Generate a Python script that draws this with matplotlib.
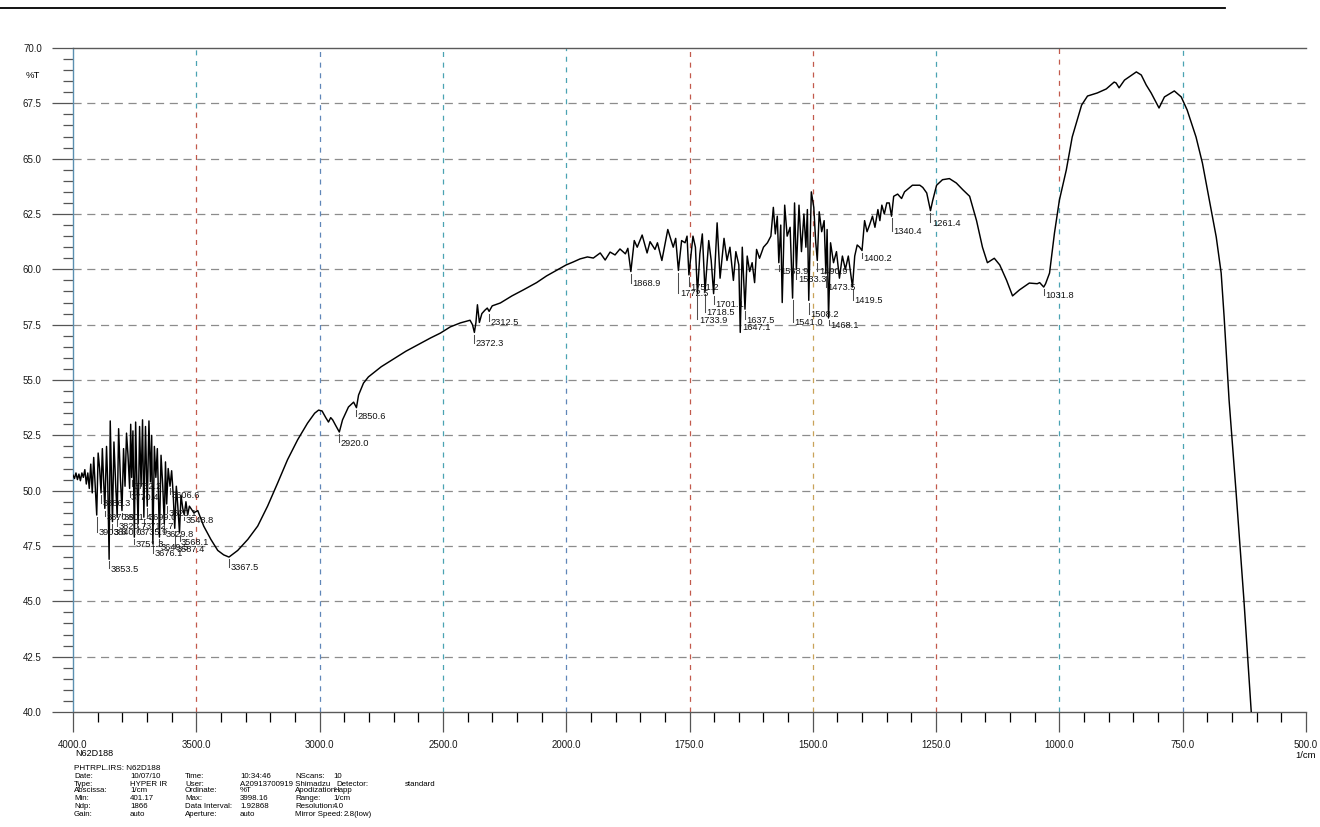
import numpy as np
import matplotlib
matplotlib.use("Agg")
import matplotlib.pyplot as plt
from matplotlib.lines import Line2D
import matplotlib.transforms as mtransforms

plt.rcParams['font.family'] = ['Liberation Sans', 'DejaVu Sans']

# ---------------------------------------------------------------- spectrum data
# 4000-3500 1/cm: water-vapour noise band
wn_high = [4000, 3994, 3988, 3982, 3976, 3970, 3964, 3958, 3952, 3946, 3940, 3934, 3928, 3922,
           3916, 3910, 3903.8, 3898, 3892, 3886.3, 3881, 3876, 3870.9, 3864, 3859, 3853.5, 3849,
           3844, 3840.0, 3834, 3827, 3820.7, 3815, 3808, 3801.4, 3795, 3789, 3783, 3777, 3770.4,
           3766, 3762.2, 3757, 3751.3, 3746, 3741, 3735.9, 3730, 3724, 3718, 3712.7, 3706, 3699.0,
           3692, 3686, 3681, 3676.1, 3670, 3664, 3658, 3649.5, 3643, 3636, 3629.8, 3625, 3620.1,
           3614, 3606.6, 3600, 3594, 3587.4, 3581, 3575, 3568.1, 3562, 3555, 3548.8, 3542, 3535,
           3528, 3510]
t_high = [50.7, 50.55, 50.8, 50.5, 50.75, 50.45, 50.8, 50.6, 50.95, 50.3, 50.8, 50.1, 51.2, 49.9,
          51.5, 50.2, 48.9, 51.7, 51.0, 49.9, 51.9, 50.5, 49.2, 52.0, 50.3, 46.9, 53.15,
          50.6, 48.6, 52.2, 50.3, 48.8, 52.8, 50.6, 49.1, 51.9, 50.2, 52.6, 51.6, 50.1,
          53.0, 50.6, 52.7, 47.9, 53.1, 50.4, 48.5, 52.9, 50.2, 53.2, 48.8, 52.9, 49.3,
          53.15, 50.4, 52.5, 47.6, 52.0, 50.6, 51.9, 47.9, 51.6, 50.2, 48.5, 51.3, 49.4,
          51.0, 50.2, 50.9, 49.9, 48.3, 50.2, 49.3, 48.1, 49.8, 49.2, 48.9, 49.5, 48.9,
          49.3, 49.0]

# 3500-2000 1/cm: broad O-H band and rising baseline
wn_broad = [3494, 3470, 3441, 3413, 3389, 3367.5, 3332, 3291, 3251, 3211, 3170, 3130, 3089, 3049,
            3020, 3004, 2990, 2975, 2964, 2955, 2947, 2935, 2920.0, 2907, 2883, 2862, 2850.6, 2842,
            2822, 2802, 2750, 2700, 2650, 2600, 2550, 2510, 2470, 2429, 2390, 2380, 2372.3, 2366,
            2360, 2352, 2342, 2330, 2320, 2312.5, 2300, 2267, 2220, 2174, 2120, 2080, 2040]
t_broad = [49.1, 48.4, 47.8, 47.3, 47.1, 47.0, 47.3, 47.8, 48.4, 49.3, 50.35, 51.4, 52.3, 53.05,
           53.5, 53.64, 53.6, 53.3, 53.1, 53.3, 53.2, 52.95, 52.65, 53.2, 53.78, 54.0, 53.75, 54.32,
           54.86, 55.14, 55.6, 55.95, 56.3, 56.6, 56.9, 57.12, 57.4, 57.58, 57.7, 57.5, 57.15, 57.6,
           58.4, 57.6, 58.0, 58.15, 58.25, 58.1, 58.35, 58.48, 58.8, 59.07, 59.4, 59.7, 59.95]

# 2000-1400 1/cm: noisy double-bond region
wn_mid = [2000, 1986, 1972, 1957, 1945, 1931, 1921, 1911, 1901, 1891, 1880, 1875, 1868.9, 1862,
          1856, 1846, 1836, 1830, 1820, 1815, 1806, 1794, 1783, 1778, 1772.5, 1766, 1759, 1755,
          1751.2, 1743, 1738, 1733.9, 1729, 1724, 1718.5, 1711, 1706, 1701.1, 1694, 1688, 1680,
          1674, 1668, 1661, 1656, 1650, 1647.1, 1643, 1637.5, 1633, 1628, 1623, 1618, 1614, 1608,
          1600, 1592, 1585, 1580, 1576, 1572, 1568.9, 1565, 1562, 1557, 1552, 1546, 1541.0, 1537,
          1533.3, 1528, 1523, 1518, 1514, 1511, 1508.2, 1503, 1498, 1494, 1490.9, 1487, 1482,
          1477, 1473.5, 1471, 1468.1, 1464, 1458, 1452, 1446, 1440, 1434, 1428, 1419.5, 1415,
          1410, 1405]
t_mid = [60.2, 60.33, 60.47, 60.56, 60.51, 60.74, 60.42, 60.78, 60.65, 60.92, 60.7, 60.95, 59.9, 61.3,
         61.0, 61.55, 60.74, 61.25, 60.9, 61.2, 60.4, 61.8, 61.0, 61.4, 59.95, 61.3, 61.2, 61.5,
         59.75, 61.5, 61.0, 58.9, 60.7, 61.6, 59.0, 61.3, 60.4, 58.9, 62.1, 59.6, 61.4,
         60.4, 61.0, 59.5, 60.8, 60.2, 57.15, 61.0, 58.2, 60.6, 59.9, 60.3, 59.4, 60.9, 60.5,
         61.0, 61.2, 61.5, 62.8, 61.6, 62.4, 60.3, 62.0, 58.5, 62.9, 61.5, 61.9, 58.7, 63.0,
         60.0, 62.9, 60.8, 62.5, 61.0, 62.7, 58.6, 63.5, 62.8, 61.2, 60.4, 62.6, 61.7,
         62.2, 59.8, 61.8, 57.8, 61.2, 60.3, 60.8, 59.6, 60.6, 60.0, 60.6, 59.2, 60.6,
         61.1, 61.0]

# 1400-600 1/cm: fingerprint region and cut-off
wn_low = [1400.2, 1395, 1390, 1385, 1379, 1374, 1368, 1364, 1360, 1355, 1350, 1345, 1340.4, 1336,
          1328, 1320, 1314, 1298, 1283, 1277, 1269, 1261.4, 1257, 1249, 1237, 1223, 1209, 1196,
          1182, 1168, 1156, 1146, 1132, 1121, 1107, 1095, 1081, 1061, 1045, 1040, 1031.8, 1028,
          1020, 1010, 1000, 986, 974, 955, 943, 923, 905, 889, 885, 879, 868, 844, 834, 824, 814,
          798, 787, 767, 753, 741, 723, 710, 696, 682, 672, 666, 656, 642, 626, 611, 600]
t_low = [60.85, 62.2, 61.7, 62.0, 62.4, 61.9, 62.7, 62.2, 62.9, 62.5, 63.0, 63.0, 62.4, 63.3,
         63.4, 63.2, 63.5, 63.8, 63.8, 63.7, 63.45, 62.65, 63.1, 63.8, 64.05, 64.1, 63.9, 63.6,
         63.3, 62.2, 61.0, 60.3, 60.5, 60.2, 59.5, 58.8, 59.07, 59.38, 59.35, 59.4, 59.2, 59.35,
         59.83, 61.64, 63.13, 64.49, 65.98, 67.42, 67.83, 67.97, 68.15, 68.46, 68.42, 68.2, 68.55,
         68.92, 68.78, 68.33, 67.97, 67.29, 67.79, 68.06, 67.79, 67.2, 65.98, 64.8, 63.13, 61.46,
         59.83, 57.85, 54.1, 50.0, 45.1, 40.0, 37.0]

# picked peaks and the %T level at which each peak label is printed
peak_wavenumbers = [3903.8, 3886.3, 3870.9, 3853.5, 3840.0, 3820.7, 3801.4, 3770.4, 3762.2, 3751.3,
                    3735.9, 3712.7, 3699.0, 3676.1, 3649.5, 3629.8, 3620.1, 3606.6, 3587.4, 3568.1,
                    3548.8, 3367.5, 2920.0, 2850.6, 2372.3, 2312.5, 1868.9, 1772.5, 1751.2, 1733.9,
                    1718.5, 1701.1, 1647.1, 1637.5, 1568.9, 1541.0, 1533.3, 1508.2, 1490.9, 1473.5,
                    1468.1, 1419.5, 1400.2, 1340.4, 1261.4, 1031.8]
label_levels = [48.09, 49.4, 48.81, 46.46, 48.09, 48.36, 48.81, 49.67, 50.17, 47.55,
                48.09, 48.36, 48.81, 47.14, 47.45, 48.04, 48.95, 49.8, 47.36, 47.68,
                48.63, 46.51, 52.15, 53.33, 56.63, 57.62, 59.34, 58.89, 59.2, 57.71,
                58.03, 58.39, 57.35, 57.71, 59.88, 57.58, 59.52, 57.94, 59.88, 59.16,
                57.44, 58.57, 60.47, 61.69, 62.09, 58.8]

x_major = [4000, 3500, 3000, 2500, 2000, 1750, 1500, 1250, 1000, 750, 500]
y_major = [40.0, 42.5, 45.0, 47.5, 50.0, 52.5, 55.0, 57.5, 60.0, 62.5, 65.0, 67.5, 70.0]

info_rows = [
    ["Date:", "10/07/10", "Time:", "10:34:46", "NScans:", "10"],
    ["Type:", "HYPER IR", "User:", "A20913700919 Shimadzu", "", ""],
    ["Abscissa:", "1/cm", "Ordinate:", "%T", "Apodization:", "Happ"],
    ["Min:", "401.17", "Max:", "3998.16", "Range:", "1/cm"],
    ["Ndp:", "1866", "Data Interval:", "1.92868", "Resolution:", "4.0"],
    ["Gain:", "auto", "Aperture:", "auto", "Mirror Speed:", ""],
]

# ---------------------------------------------------------------- figure
W, H = 1320, 827
fig = plt.figure(figsize=(W / 100, H / 100), dpi=100)
fig.patch.set_facecolor('white')


def fx(px):
    return px / W


def fy(py):
    return 1 - py / H


ax = fig.add_axes([fx(73), fy(712), fx(1306 - 73), (712 - 48) / H])


# abscissa: 500 1/cm per unit above 2000, 250 1/cm per unit below
def fwd(w):
    w = np.asarray(w, dtype=float)
    return np.where(w >= 2000, (w - 2000) / 500.0, (w - 2000) / 250.0)


def inv(p):
    p = np.asarray(p, dtype=float)
    return np.where(p >= 0, 2000 + 500 * p, 2000 + 250 * p)


ax.set_xscale('function', functions=(fwd, inv))
ax.set_xlim(4000, 500)
ax.set_ylim(40, 70)

wn = np.concatenate([wn_high, wn_broad, wn_mid, wn_low])
tr = np.concatenate([t_high, t_broad, t_mid, t_low])

# grid: horizontal grey dashes, vertical dashes in the recorder's pen colours
TEAL, RED, BLUE, GOLD = '#4aa3b3', '#c25a4c', '#5f86b8', '#c9a35a'
vgrid = [(3500, TEAL, RED, 67.3), (3000, BLUE, BLUE, 60.0), (2500, TEAL, TEAL, 60.0),
         (2000, TEAL, BLUE, 55.0), (1750, RED, RED, 60.0), (1500, RED, GOLD, 61.0),
         (1250, TEAL, RED, 61.0), (1000, RED, TEAL, 64.0), (750, TEAL, BLUE, 50.0)]
for v in y_major[1:-1]:
    ax.axhline(v, color='#8c8c8c', lw=0.9, ls=(0, (6.5, 4.5)), zorder=1)
for v, c_up, c_low, split in vgrid:
    f = (split - 40) / 30
    ax.axvline(v, ymin=f, ymax=1, color=c_up, lw=0.9, ls=(0, (4, 4.5)), zorder=1)
    ax.axvline(v, ymin=0, ymax=f, color=c_low, lw=0.9, ls=(0, (4, 4.5)), zorder=1)

ax.plot(wn, tr, color='black', lw=1.05, zorder=3)

# peak labels
to_right = mtransforms.offset_copy(ax.transData, fig=fig, x=1.5, y=0, units='dots')
for w, lev in zip(peak_wavenumbers, label_levels):
    t_min = float(np.interp(-w, -wn, tr))
    if lev < t_min - 0.25:
        ax.plot([w, w], [t_min - 0.1, lev + 0.05], color='#4d4d4d', lw=0.75, zorder=2)
    ax.text(w, lev, f"{w:.1f}", transform=to_right, ha='left', va='center',
            fontsize=6.7, color='#141414', zorder=4)

# ticks
ax.set_xticks(x_major)
ax.set_xticklabels([f"{v:.1f}" for v in x_major])
x_minor = [v for v in range(3900, 2000, -100) if v % 500] + [v for v in range(1950, 500, -50) if v % 250]
ax.set_xticks(x_minor, minor=True)
ax.set_yticks(y_major)
ax.set_yticklabels([f"{v:.1f}" for v in y_major])
ax.set_yticks(np.arange(40, 70.01, 0.5), minor=True)

ax.tick_params(axis='x', which='major', direction='out', length=14.5, width=0.9, pad=6.0,
               labelsize=7.0, colors='#555555', labelcolor='#1a1a1a')
ax.tick_params(axis='x', which='minor', direction='out', length=7, width=0.9)
ax.tick_params(axis='y', which='major', direction='out', length=15, width=0.9, pad=7.5,
               labelsize=7.0, colors='#555555', labelcolor='#1a1a1a')
ax.tick_params(axis='y', which='minor', direction='out', length=7, width=0.9, colors='#555555')

tick_palette = ['#c0504d', '#c0504d', '#3d9aa5', '#555555', '#c0504d', '#555555']
for i, t in enumerate(ax.xaxis.get_minor_ticks()):
    t.tick1line.set_color(tick_palette[i % len(tick_palette)])
major_cols = ['#555555', '#555555', '#555555', '#c0504d', '#3d9aa5', '#c0504d',
              '#c0504d', '#555555', '#c0504d', '#3d9aa5', '#555555']
for t, c in zip(ax.xaxis.get_major_ticks(), major_cols):
    t.tick1line.set_color(c)

for s in ['top', 'bottom']:
    ax.spines[s].set_color('#5a5a5a')
    ax.spines[s].set_linewidth(1.0)
ax.spines['left'].set_color('#5b8fb0')
ax.spines['left'].set_linewidth(1.0)
ax.spines['right'].set_visible(False)

# page furniture
fig.add_artist(Line2D([0, fx(1225)], [fy(8), fy(8)], color='black', lw=1.3))
fig.text(fx(33), fy(76), '%T', ha='center', va='center', fontsize=6.8)
fig.text(fx(1306), fy(756), '1/cm', ha='center', va='center', fontsize=6.8)
fig.text(fx(75), fy(754), 'N62D188', ha='left', va='center', fontsize=6.5)
fig.text(fx(74), fy(768), 'PHTRPL.IRS: N62D188', ha='left', va='center', fontsize=5.9)

col_x = [74, 130, 185, 240, 295, 333]
row_y = [776, 784, 791, 799, 806, 814]
info_size = 5.7
for ry, row in zip(row_y, info_rows):
    for cx, txt in zip(col_x, row):
        if txt:
            fig.text(fx(cx), fy(ry), txt, ha='left', va='center', fontsize=info_size)
fig.text(fx(336), fy(784), 'Detector:', ha='left', va='center', fontsize=info_size)
fig.text(fx(405), fy(784), 'standard', ha='left', va='center', fontsize=info_size)
fig.text(fx(344), fy(814), '2.8(low)', ha='left', va='center', fontsize=info_size)

fig.savefig('out.png', dpi=100, facecolor='white')
